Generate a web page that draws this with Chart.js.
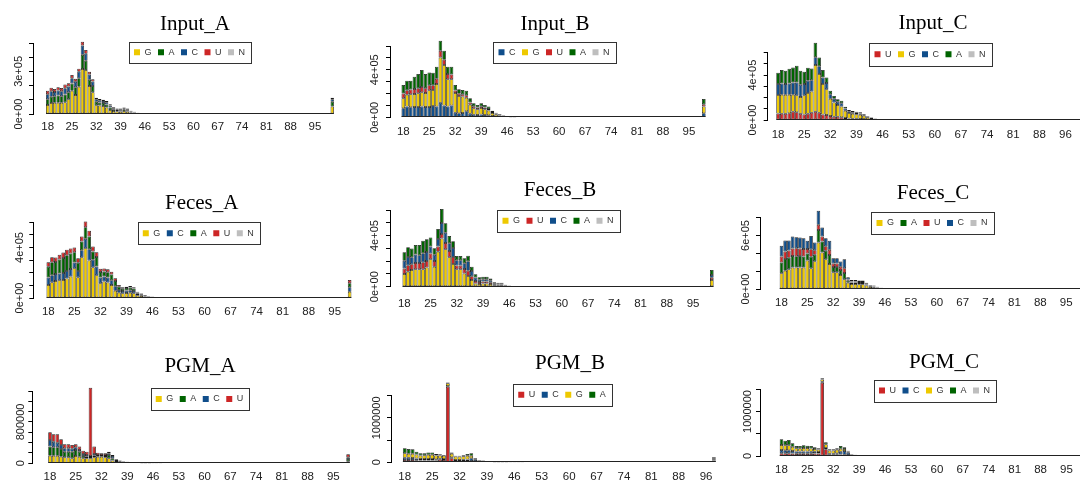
<!DOCTYPE html>
<html>
<head>
<meta charset="utf-8">
<script src="https://cdn.jsdelivr.net/npm/chart.js@4.4.1/dist/chart.umd.min.js"></script>
<style>
html,body{margin:0;padding:0;background:#fff;width:1080px;height:481px;overflow:hidden;position:relative}
canvas{position:absolute}
</style>
</head>
<body>
<script>
// ---------- categories (read length, nt) ----------
const cats18to100 = [18,19,20,21,22,23,24,25,26,27,28,29,30,31,32,33,34,35,36,37,38,39,40,41,42,43,44,45,46,47,48,49,50,51,52,53,54,55,56,57,58,59,60,61,62,63,64,65,66,67,68,69,70,71,72,73,74,75,76,77,78,79,80,81,82,83,84,85,86,87,88,89,90,91,92,93,94,95,96,97,98,99,100];
const cats18to99 = [18,19,20,21,22,23,24,25,26,27,28,29,30,31,32,33,34,35,36,37,38,39,40,41,42,43,44,45,46,47,48,49,50,51,52,53,54,55,56,57,58,59,60,61,62,63,64,65,66,67,68,69,70,71,72,73,74,75,76,77,78,79,80,81,82,83,84,85,86,87,88,89,90,91,92,93,94,95,96,97,98,99];
const cats18to101no95 = [18,19,20,21,22,23,24,25,26,27,28,29,30,31,32,33,34,35,36,37,38,39,40,41,42,43,44,45,46,47,48,49,50,51,52,53,54,55,56,57,58,59,60,61,62,63,64,65,66,67,68,69,70,71,72,73,74,75,76,77,78,79,80,81,82,83,84,85,86,87,88,89,90,91,92,93,94,96,97,98,99,100,101];
const cats18to98no95 = [18,19,20,21,22,23,24,25,26,27,28,29,30,31,32,33,34,35,36,37,38,39,40,41,42,43,44,45,46,47,48,49,50,51,52,53,54,55,56,57,58,59,60,61,62,63,64,65,66,67,68,69,70,71,72,73,74,75,76,77,78,79,80,81,82,83,84,85,86,87,88,89,90,91,92,93,94,96,97,98];
// x tick positions (category index of every 7th label)
const xTickIdx = [0,7,14,21,28,35,42,49,56,63,70,77];

// ---------- series values (thousands of reads) ----------
// Input_A  (stack order G, A, C, U, N) — 83 values
const inputA_G = [63,77,80,80,80,82,103,164,134,192, 317,310,197,153,61,59,56,45,28,21, 19,18,22,18,11,8,4,2,1,0.5, 0.2, 0,0,0,0,0, 0,0,0,0,0, 0,0,0,0,0, 0,0,0,0,0, 0,0,0,0,0, 0,0,0,0,0, 0,0,0,0,0, 0,0,0,0,0, 0,0,0,0,0, 0,0,0,0,0, 0, 52];
const inputA_A = [40,45,45,50,45,55,50,50,55,60, 100,65,45,45,25,22,22,22,18,12, 9,9,11,9,6,4,2,1,0.5,0.3, 0.1, 0,0,0,0,0, 0,0,0,0,0, 0,0,0,0,0, 0,0,0,0,0, 0,0,0,0,0, 0,0,0,0,0, 0,0,0,0,0, 0,0,0,0,0, 0,0,0,0,0, 0,0,0,0,0, 0, 35];
const inputA_C = [36,38,30,35,35,45,40,38,38,45, 65,50,36,30,18,15,14,15,13,8, 6,7,8,7,4,3,2,1,0.3,0.1, 0.1, 0,0,0,0,0, 0,0,0,0,0, 0,0,0,0,0, 0,0,0,0,0, 0,0,0,0,0, 0,0,0,0,0, 0,0,0,0,0, 0,0,0,0,0, 0,0,0,0,0, 0,0,0,0,0, 0, 16];
const inputA_U = [25,25,21,23,23,25,23,23,22,22, 27,26,20,16,11,10,9,10,9,6, 4,4,4,4,2,1,1,1,0.2,0.1, 0, 0,0,0,0,0, 0,0,0,0,0, 0,0,0,0,0, 0,0,0,0,0, 0,0,0,0,0, 0,0,0,0,0, 0,0,0,0,0, 0,0,0,0,0, 0,0,0,0,0, 0,0,0,0,0, 0, 12];
const inputA_N = [0,0,0,0,0, 0,0,0,0,0, 0,0,0,0,0, 0,0,0,0,0, 0,0,0,0,0, 0,0,0,0,0, 0,0,0,0,0, 0,0,0,0,0, 0,0,0,0,0, 0,0,0,0,0, 0,0,0,0,0, 0,0,0,0,0, 0,0,0,0,0, 0,0,0,0,0, 0,0,0,0,0, 0,0,0,0,0, 0,0,0];
// Input_B  (C, G, U, A, N) — 82 values
const inputB_C = [76,90,84,87,87,90,87,87,95,90, 123,100,90,100,39,34,36,50,30,22, 20,24,20,18,11,8,5,3,2,1, 0.5, 0,0,0,0,0, 0,0,0,0,0, 0,0,0,0,0, 0,0,0,0,0, 0,0,0,0,0, 0,0,0,0,0, 0,0,0,0,0, 0,0,0,0,0, 0,0,0,0,0, 0,0,0,0,0, 34];
const inputB_G = [84,100,110,110,115,120,118,140,135,190, 380,340,230,220,165,145,140,115,75,55, 48,55,48,40,25,17,11,8,5,3, 1.5, 0,0,0,0,0, 0,0,0,0,0, 0,0,0,0,0, 0,0,0,0,0, 0,0,0,0,0, 0,0,0,0,0, 0,0,0,0,0, 0,0,0,0,0, 0,0,0,0,0, 0,0,0,0,0, 56];
const inputB_U = [40,38,40,42,42,45,40,42,40,45, 56,45,45,40,22,20,18,20,20,15, 14,15,14,12,8,6,4,3,2,1, 0.5, 0,0,0,0,0, 0,0,0,0,0, 0,0,0,0,0, 0,0,0,0,0, 0,0,0,0,0, 0,0,0,0,0, 0,0,0,0,0, 0,0,0,0,0, 0,0,0,0,0, 0,0,0,0,0, 19];
const inputB_A = [72,80,74,103,120,143,119,109,105,101, 85,75,61,66,46,36,36,39,35,26, 22,24,22,20,12,8,5,3,2,1, 0.5, 0,0,0,0,0, 0,0,0,0,0, 0,0,0,0,0, 0,0,0,0,0, 0,0,0,0,0, 0,0,0,0,0, 0,0,0,0,0, 0,0,0,0,0, 0,0,0,0,0, 0,0,0,0,0, 45];
const inputB_N = [0,0,0,0,0, 0,0,0,0,0, 0,0,0,0,0, 0,0,0,0,0, 0,0,0,0,0, 0,0,0,0,0, 0,0,0,0,0, 0,0,0,0,0, 0,0,0,0,0, 0,0,0,0,0, 0,0,0,0,0, 0,0,0,0,0, 0,0,0,0,0, 0,0,0,0,0, 0,0,0,0,0, 0,0,0,0,0, 0,0];
// Input_C  (U, G, C, A, N) — 83 values
const inputC_U = [59,55,55,60,74,70,55,50,55,65, 74,65,50,45,35,30,28,25,18,14, 12,11,10,8,6,4,2.5,1.5,1,0.5, 0.2, 0,0,0,0,0, 0,0,0,0,0, 0,0,0,0,0, 0,0,0,0,0, 0,0,0,0,0, 0,0,0,0,0, 0,0,0,0,0, 0,0,0,0,0, 0,0,0,0,0, 0,0,0,0,0, 0, 30];
const inputC_G = [163,170,170,165,150,150,150,170,185,190, 416,345,270,230,155,125,105,95,65,48, 43,40,37,29,19,13,8,5,3,1.5, 0.5, 0,0,0,0,0, 0,0,0,0,0, 0,0,0,0,0, 0,0,0,0,0, 0,0,0,0,0, 0,0,0,0,0, 0,0,0,0,0, 0,0,0,0,0, 0,0,0,0,0, 0,0,0,0,0, 0, 60];
const inputC_C = [99,100,95,100,110,115,110,100,110,100, 70,70,60,55,40,35,30,30,20,15, 14,13,12,9,6,4,2.5,1.5,1,0.5, 0.2, 0,0,0,0,0, 0,0,0,0,0, 0,0,0,0,0, 0,0,0,0,0, 0,0,0,0,0, 0,0,0,0,0, 0,0,0,0,0, 0,0,0,0,0, 0,0,0,0,0, 0,0,0,0,0, 0, 30];
const inputC_A = [101,121,120,132,135,149,125,111,116,105, 129,78,66,50,31,24,21,22,16,12, 11,10,9,7,5,3,2,1,1,0.5, 0.1, 0,0,0,0,0, 0,0,0,0,0, 0,0,0,0,0, 0,0,0,0,0, 0,0,0,0,0, 0,0,0,0,0, 0,0,0,0,0, 0,0,0,0,0, 0,0,0,0,0, 0,0,0,0,0, 0, 40];
const inputC_N = [0,0,0,0,0, 0,0,0,0,0, 0,0,0,0,0, 0,0,0,0,0, 0,0,0,0,0, 0,0,0,0,0, 0,0,0,0,0, 0,0,0,0,0, 0,0,0,0,0, 0,0,0,0,0, 0,0,0,0,0, 0,0,0,0,0, 0,0,0,0,0, 0,0,0,0,0, 0,0,0,0,0, 0,0,0,0,0, 0,0,0];
// Feces_A  (G, C, A, U, N) — 82 values
const fecesA_G = [103,125,135,140,143,154,170,236,164,323, 395,297,244,180,117,130,122,103,58,42, 37,40,42,38,22,17,11,7,5,2, 1, 0,0,0,0,0, 0,0,0,0,0, 0,0,0,0,0, 0,0,0,0,0, 0,0,0,0,0, 0,0,0,0,0, 0,0,0,0,0, 0,0,0,0,0, 0,0,0,0,0, 0,0,0,0,0, 50];
const fecesA_C = [60,55,55,55,55,60,60,45,50,55, 75,90,60,70,45,40,40,38,35,22, 18,19,20,18,11,8,5,4,2.5,1, 0.4, 0,0,0,0,0, 0,0,0,0,0, 0,0,0,0,0, 0,0,0,0,0, 0,0,0,0,0, 0,0,0,0,0, 0,0,0,0,0, 0,0,0,0,0, 0,0,0,0,0, 0,0,0,0,0, 35];
const fecesA_A = [85,103,95,110,120,125,122,82,65,70, 90,100,65,75,45,40,43,45,42,25, 19,20,21,19,11,8,5,3,2.5,1.5, 0.4, 0,0,0,0,0, 0,0,0,0,0, 0,0,0,0,0, 0,0,0,0,0, 0,0,0,0,0, 0,0,0,0,0, 0,0,0,0,0, 0,0,0,0,0, 0,0,0,0,0, 0,0,0,0,0, 32];
const fecesA_U = [36,40,36,37,42,43,40,37,36,40, 47,46,39,38,24,23,23,23,21,14, 11,11,12,10,6,4,3,2,1,0.5, 0.2, 0,0,0,0,0, 0,0,0,0,0, 0,0,0,0,0, 0,0,0,0,0, 0,0,0,0,0, 0,0,0,0,0, 0,0,0,0,0, 0,0,0,0,0, 0,0,0,0,0, 0,0,0,0,0, 26];
const fecesA_N = [0,0,0,0,0, 0,0,0,0,0, 0,0,0,0,0, 0,0,0,0,0, 0,0,0,0,0, 0,0,0,0,0, 0,0,0,0,0, 0,0,0,0,0, 0,0,0,0,0, 0,0,0,0,0, 0,0,0,0,0, 0,0,0,0,0, 0,0,0,0,0, 0,0,0,0,0, 0,0,0,0,0, 0,0,0,0,0, 0,0];
// Feces_B  (G, U, C, A, N) — 83 values
const fecesB_G = [99,117,130,136,136,136,151,214,157,274, 378,292,230,177,136,136,104,84,52,25, 22,25,25,22,12,11,11,6,4,2, 1, 0,0,0,0,0, 0,0,0,0,0, 0,0,0,0,0, 0,0,0,0,0, 0,0,0,0,0, 0,0,0,0,0, 0,0,0,0,0, 0,0,0,0,0, 0,0,0,0,0, 0,0,0,0,0, 0, 52];
const fecesB_U = [44,50,45,50,50,55,50,45,45,40, 35,50,50,55,30,30,35,40,30,20, 15,15,15,13,7,6,6,3,2,1, 0.3, 0,0,0,0,0, 0,0,0,0,0, 0,0,0,0,0, 0,0,0,0,0, 0,0,0,0,0, 0,0,0,0,0, 0,0,0,0,0, 0,0,0,0,0, 0,0,0,0,0, 0,0,0,0,0, 0, 18];
const fecesB_C = [60,65,55,65,60,70,70,55,48,60, 85,80,60,70,40,40,45,75,40,27, 18,19,19,15,8,7,7,4,2,1, 0.4, 0,0,0,0,0, 0,0,0,0,0, 0,0,0,0,0, 0,0,0,0,0, 0,0,0,0,0, 0,0,0,0,0, 0,0,0,0,0, 0,0,0,0,0, 0,0,0,0,0, 0,0,0,0,0, 0, 21];
const fecesB_A = [66,76,68,75,80,99,100,70,50,78, 110,74,57,53,34,34,38,44,35,25, 18,19,19,15,7,7,7,3,2,1, 0.3, 0,0,0,0,0, 0,0,0,0,0, 0,0,0,0,0, 0,0,0,0,0, 0,0,0,0,0, 0,0,0,0,0, 0,0,0,0,0, 0,0,0,0,0, 0,0,0,0,0, 0,0,0,0,0, 0, 39];
const fecesB_N = [0,0,0,0,0, 0,0,0,0,0, 0,0,0,0,0, 0,0,0,0,0, 0,0,0,0,0, 0,0,0,0,0, 0,0,0,0,0, 0,0,0,0,0, 0,0,0,0,0, 0,0,0,0,0, 0,0,0,0,0, 0,0,0,0,0, 0,0,0,0,0, 0,0,0,0,0, 0,0,0,0,0, 0,0,0,0,0, 0,0,0];
// Feces_C  (G, A, U, C, N) — 83 values
const fecesC_G = [176,206,221,240,240,240,240,319,232,310, 521,409,334,281,187,187,157,109,71,55, 55,52,52,39,25,21,14,8,6,4, 2, 0,0,0,0,0, 0,0,0,0,0, 0,0,0,0,0, 0,0,0,0,0, 0,0,0,0,0, 0,0,0,0,0, 0,0,0,0,0, 0,0,0,0,0, 0,0,0,0,0, 0,0,0,0,0, 0, 60];
const fecesC_A = [120,130,130,130,128,130,125,80,130,75, 140,125,95,100,60,60,55,70,22,17, 17,16,16,12,8,7,5,3,2,1.3, 0.8, 0,0,0,0,0, 0,0,0,0,0, 0,0,0,0,0, 0,0,0,0,0, 0,0,0,0,0, 0,0,0,0,0, 0,0,0,0,0, 0,0,0,0,0, 0,0,0,0,0, 0,0,0,0,0, 0, 40];
const fecesC_U = [70,85,80,85,90,85,85,50,85,50, 60,55,50,60,40,40,38,55,14,11, 11,10,10,8,5,4,3,2,1.5,0.8, 0.5, 0,0,0,0,0, 0,0,0,0,0, 0,0,0,0,0, 0,0,0,0,0, 0,0,0,0,0, 0,0,0,0,0, 0,0,0,0,0, 0,0,0,0,0, 0,0,0,0,0, 0,0,0,0,0, 0, 25];
const fecesC_C = [118,123,113,134,123,123,120,91,149,86, 157,101,91,99,58,58,58,100,24,18, 18,16,16,12,7,6,4,2,1.5,0.9, 0.7, 0,0,0,0,0, 0,0,0,0,0, 0,0,0,0,0, 0,0,0,0,0, 0,0,0,0,0, 0,0,0,0,0, 0,0,0,0,0, 0,0,0,0,0, 0,0,0,0,0, 0,0,0,0,0, 0, 35];
const fecesC_N = [0,0,0,0,0, 0,0,0,0,0, 0,0,0,0,0, 0,0,0,0,0, 0,0,0,0,0, 0,0,0,0,0, 0,0,0,0,0, 0,0,0,0,0, 0,0,0,0,0, 0,0,0,0,0, 0,0,0,0,0, 0,0,0,0,0, 0,0,0,0,0, 0,0,0,0,0, 0,0,0,0,0, 0,0,0,0,0, 0,0,0];
// PGM_A  (G, A, C, U) — 82 values
const pgmA_G = [148,148,148,129,116,116,97,142,129,97, 97,97,116,129,129,116,97,52,26,17, 13,10,8,6,4,3,2,1.5,1,0.6, 0.3, 0,0,0,0,0, 0,0,0,0,0, 0,0,0,0,0, 0,0,0,0,0, 0,0,0,0,0, 0,0,0,0,0, 0,0,0,0,0, 0,0,0,0,0, 0,0,0,0,0, 0,0,0,0,0, 40];
const pgmA_A = [175,162,162,148,110,110,129,116,97,45, 32,26,32,13,13,26,64,45,19,13, 10,8,6,5,3,3,2,1.5,1,0.6, 0.3, 0,0,0,0,0, 0,0,0,0,0, 0,0,0,0,0, 0,0,0,0,0, 0,0,0,0,0, 0,0,0,0,0, 0,0,0,0,0, 0,0,0,0,0, 0,0,0,0,0, 0,0,0,0,0, 45];
const pgmA_C = [129,109,90,78,64,64,58,52,32,39, 32,19,33,19,19,19,32,45,19,13, 10,9,7,5,4,2,2,1.2,0.6,0.4, 0.2, 0,0,0,0,0, 0,0,0,0,0, 0,0,0,0,0, 0,0,0,0,0, 0,0,0,0,0, 0,0,0,0,0, 0,0,0,0,0, 0,0,0,0,0, 0,0,0,0,0, 0,0,0,0,0, 30];
const pgmA_U = [148,142,161,109,78,78,71,58,65,64, 65,1322,142,45,33,33,33,19,13,9, 6,5,5,3,2,2,1,0.8,0.4,0.4, 0.2, 0,0,0,0,0, 0,0,0,0,0, 0,0,0,0,0, 0,0,0,0,0, 0,0,0,0,0, 0,0,0,0,0, 0,0,0,0,0, 0,0,0,0,0, 0,0,0,0,0, 0,0,0,0,0, 59];
// PGM_B  (U, C, G, A) — 80 values
const pgmB_U = [53,50,50,45,40,40,40,40,40,55, 50,1700,90,30,30,30,30,30,15,10, 7,6,4,3,2,1.5,1,0.6,0.4,0.2, 0.1, 0,0,0,0,0, 0,0,0,0,0, 0,0,0,0,0, 0,0,0,0,0, 0,0,0,0,0, 0,0,0,0,0, 0,0,0,0,0, 0,0,0,0,0, 0,0,0,0,0, 0,0,0, 40];
const pgmB_C = [52,50,45,40,35,35,35,35,30,25, 25,20,25,20,20,25,35,60,35,20, 14,11,8,6,4,3,2,1.2,0.8,0.4, 0.2, 0,0,0,0,0, 0,0,0,0,0, 0,0,0,0,0, 0,0,0,0,0, 0,0,0,0,0, 0,0,0,0,0, 0,0,0,0,0, 0,0,0,0,0, 0,0,0,0,0, 0,0,0, 20];
const pgmB_G = [98,95,100,90,80,85,95,95,85,75, 70,60,80,80,80,80,85,60,20,13, 10,8,6,4,3,2,1.2,0.7,0.5,0.2, 0.1, 0,0,0,0,0, 0,0,0,0,0, 0,0,0,0,0, 0,0,0,0,0, 0,0,0,0,0, 0,0,0,0,0, 0,0,0,0,0, 0,0,0,0,0, 0,0,0,0,0, 0,0,0, 20];
const pgmB_A = [112,105,98,65,48,43,48,48,33,25, 20,20,23,20,20,23,38,53,20,10, 7,5,4,3,2,1.5,0.8,0.5,0.3,0.2, 0.1, 0,0,0,0,0, 0,0,0,0,0, 0,0,0,0,0, 0,0,0,0,0, 0,0,0,0,0, 0,0,0,0,0, 0,0,0,0,0, 0,0,0,0,0, 0,0,0,0,0, 0,0,0, 33];
// PGM_C  (U, C, G, A, N) — 83 values
const pgmC_U = [60,60,60,55,50,50,50,50,50,55, 55,1650,150,30,30,30,35,30,20,8, 5,4,3,2,1.5,1,0.7,0.5,0.3,0.2, 0.1, 0,0,0,0,0, 0,0,0,0,0, 0,0,0,0,0, 0,0,0,0,0, 0,0,0,0,0, 0,0,0,0,0, 0,0,0,0,0, 0,0,0,0,0, 0,0,0,0,0, 0,0,0,0,0, 0, 40];
const pgmC_C = [75,70,70,60,50,50,50,50,45,40, 35,20,30,20,20,30,60,80,55,20, 13,10,7,5,3,2.5,1.6,1.2,0.8,0.4, 0.2, 0,0,0,0,0, 0,0,0,0,0, 0,0,0,0,0, 0,0,0,0,0, 0,0,0,0,0, 0,0,0,0,0, 0,0,0,0,0, 0,0,0,0,0, 0,0,0,0,0, 0,0,0,0,0, 0, 20];
const pgmC_G = [113,110,110,95,75,75,80,78,75,60, 55,50,85,75,75,80,70,45,25,10, 7,5,4,3,2,1.5,1,0.8,0.5,0.2, 0.1, 0,0,0,0,0, 0,0,0,0,0, 0,0,0,0,0, 0,0,0,0,0, 0,0,0,0,0, 0,0,0,0,0, 0,0,0,0,0, 0,0,0,0,0, 0,0,0,0,0, 0,0,0,0,0, 0, 20];
const pgmC_A = [127,105,120,75,50,50,60,55,55,40, 28,28,43,25,25,33,60,40,20,7, 5,4,3,2,1.5,1,0.7,0.5,0.4,0.2, 0.1, 0,0,0,0,0, 0,0,0,0,0, 0,0,0,0,0, 0,0,0,0,0, 0,0,0,0,0, 0,0,0,0,0, 0,0,0,0,0, 0,0,0,0,0, 0,0,0,0,0, 0,0,0,0,0, 0, 30];
const pgmC_N = [0,0,0,0,0, 0,0,0,0,0, 0,0,0,0,0, 0,0,0,0,0, 0,0,0,0,0, 0,0,0,0,0, 0,0,0,0,0, 0,0,0,0,0, 0,0,0,0,0, 0,0,0,0,0, 0,0,0,0,0, 0,0,0,0,0, 0,0,0,0,0, 0,0,0,0,0, 0,0,0,0,0, 0,0,0,0,0, 0,0,0];

// ---------- y tick labels ----------
const yTicksInputA = [0, 300], yTextInputA = ['0e+00', '3e+05'];
const yTicks4e5 = [0, 400], yText4e5 = ['0e+00', '4e+05'];
const yTicks6e5 = [0, 600], yText6e5 = ['0e+00', '6e+05'];
const yTicks8e5 = [0, 800], yText8e5 = ['0', '800000'];
const yTicks1e6 = [0, 1000], yText1e6 = ['0', '1000000'];

// ---------- styles ----------
const COLORS = {G:'#EEC900', A:'#006400', C:'#104E8B', U:'#CD2626', N:'#BEBEBE'};
const SANS = '"Liberation Sans", Arial, Helvetica, sans-serif';
const SERIF = '"Liberation Serif", "Times New Roman", serif';
const TITLE_SIZE = 21, X_FONT = 11.5, Y_FONT = 11, LEG_FONT = 9, LEG_BOX = 6, LEG_PAD = 6.5, TICK_LEN = 4;

const panels = [
  {title:'Input_A', cats:cats18to100, order:['G','A','C','U','N'], series:{G:inputA_G,A:inputA_A,C:inputA_C,U:inputA_U,N:inputA_N}, yMax:500, yStep:100, yVals:yTicksInputA, yText:yTextInputA,
   lay:{px:0,py:0,pw:360,ph:160, axisX:33, topY:43, zeroY:114, x0:47.7, s:3.47, tx:195, ty:24, lx:189.5, ly:52.3, lh:21, yd:14.3, xd:12.7}},
  {title:'Input_B', cats:cats18to99, order:['C','G','U','A','N'], series:{C:inputB_C,G:inputB_G,U:inputB_U,A:inputB_A,N:inputB_N}, yMax:600, yStep:100, yVals:yTicks4e5, yText:yText4e5,
   lay:{px:360,py:0,pw:360,ph:160, axisX:390, topY:46, zeroY:117.3, x0:403.3, s:3.71, tx:555, ty:24, lx:554, ly:52.2, lh:21, yd:15, xd:14.4}},
  {title:'Input_C', cats:cats18to101no95, order:['U','G','C','A','N'], series:{U:inputC_U,G:inputC_G,C:inputC_C,A:inputC_A,N:inputC_N}, yMax:600, yStep:100, yVals:yTicks4e5, yText:yText4e5,
   lay:{px:720,py:0,pw:360,ph:160, axisX:767.7, topY:52.7, zeroY:120, x0:778.3, s:3.81, tx:933, ty:23.3, lx:930, ly:54.3, lh:23, yd:15.2, xd:15}},
  {title:'Feces_A', cats:cats18to99, order:['G','C','A','U','N'], series:{G:fecesA_G,C:fecesA_C,A:fecesA_A,U:fecesA_U,N:fecesA_N}, yMax:600, yStep:100, yVals:yTicks4e5, yText:yText4e5,
   lay:{px:0,py:160,pw:360,ph:170, axisX:33.3, topY:222.3, zeroY:298, x0:48.3, s:3.72, tx:201.7, ty:203.3, lx:198.3, ly:233.2, lh:22, yd:13.3, xd:13.7}},
  {title:'Feces_B', cats:cats18to100, order:['G','U','C','A','N'], series:{G:fecesB_G,U:fecesB_U,C:fecesB_C,A:fecesB_A,N:fecesB_N}, yMax:600, yStep:100, yVals:yTicks4e5, yText:yText4e5,
   lay:{px:360,py:160,pw:360,ph:170, axisX:390, topY:210, zeroY:286.7, x0:404.3, s:3.75, tx:560, ty:190.7, lx:558, ly:220.8, lh:22, yd:15.3, xd:16.7}},
  {title:'Feces_C', cats:cats18to100, order:['G','A','U','C','N'], series:{G:fecesC_G,A:fecesC_A,U:fecesC_U,C:fecesC_C,N:fecesC_N}, yMax:800, yStep:200, yVals:yTicks6e5, yText:yText6e5,
   lay:{px:720,py:160,pw:360,ph:170, axisX:760, topY:217.7, zeroY:289, x0:781.7, s:3.74, tx:933, ty:193.3, lx:932, ly:223, lh:22, yd:14, xd:14.3}},
  {title:'PGM_A', cats:cats18to99, order:['G','A','C','U'], series:{G:pgmA_G,A:pgmA_A,C:pgmA_C,U:pgmA_U}, yMax:1400, yStep:200, yVals:yTicks8e5, yText:yText8e5,
   lay:{px:0,py:330,pw:360,ph:151, axisX:32.3, topY:391, zeroY:463.3, x0:50, s:3.68, tx:200, ty:366, lx:199.5, ly:399, lh:22, yd:11, xd:13.4}},
  {title:'PGM_B', cats:cats18to98no95, order:['U','C','G','A'], series:{U:pgmB_U,C:pgmB_C,G:pgmB_G,A:pgmB_A}, yMax:1500, yStep:500, yVals:yTicks1e6, yText:yText1e6,
   lay:{px:360,py:330,pw:360,ph:151, axisX:391, topY:395.7, zeroY:462.3, x0:405, s:3.98, tx:570, ty:363.3, lx:562, ly:394.7, lh:22, yd:14, xd:14.4}},
  {title:'PGM_C', cats:cats18to100, order:['U','C','G','A','N'], series:{U:pgmC_U,C:pgmC_C,G:pgmC_G,A:pgmC_A,N:pgmC_N}, yMax:1500, yStep:500, yVals:yTicks1e6, yText:yText1e6,
   lay:{px:720,py:330,pw:360,ph:151, axisX:760, topY:389.3, zeroY:456, x0:781.7, s:3.74, tx:944, ty:362.3, lx:934.5, ly:390.5, lh:22, yd:12, xd:14}}
];

const mctx = document.createElement('canvas').getContext('2d');
const lengthProblems = [];

function build(p) {
  const L = p.lay;
  const cv = document.createElement('canvas');
  cv.width = L.pw; cv.height = L.ph;
  cv.style.left = L.px + 'px'; cv.style.top = L.py + 'px';
  cv.style.width = L.pw + 'px'; cv.style.height = L.ph + 'px';
  document.body.appendChild(cv);
  const n = p.cats.length;
  p.order.forEach(k => { if (p.series[k].length !== n) lengthProblems.push(p.title + ' ' + k + ': ' + p.series[k].length + ' vs ' + n); });
  const xmin = -(L.x0 - L.axisX) / L.s;
  const xmax = xmin + (L.px + L.pw - L.axisX) / L.s;
  mctx.font = Y_FONT + 'px ' + SANS;
  const widest = Math.max(...p.yText.map(t => mctx.measureText(t).width));
  const yPad = L.yd - TICK_LEN - widest / 2;
  const xPad = L.xd - X_FONT * 1.2 / 2;
  const titleH = TITLE_SIZE * 1.2;

  const datasets = p.order.map(k => ({
    label: k,
    data: p.series[k].map((v, i) => ({x: i, y: v})),
    backgroundColor: COLORS[k],
    borderColor: '#1a1a1a',
    borderWidth: 0.75,
    borderSkipped: false,
    barPercentage: 0.97,
    categoryPercentage: 1,
    clip: false
  }));

  const placer = {
    id: 'placer',
    afterLayout(chart) {
      const t = chart.titleBlock;
      if (t) {
        t.left = L.tx - L.px - 150; t.right = L.tx - L.px + 150;
        t.top = L.ty - L.py - titleH / 2; t.bottom = t.top + titleH;
      }
      const lg = chart.legend;
      if (lg) {
        const w = lg.width, cx = L.lx - L.px;
        lg.left = cx - w / 2; lg.right = cx + w / 2;
        const ih = Math.max(LEG_FONT, LEG_BOX);
        lg.top = L.ly - L.py - LEG_PAD - ih / 2;
        lg.bottom = lg.top + 2 * LEG_PAD + ih + 10;
      }
    },
    afterDatasetsDraw(chart) {
      const xs = chart.scales.x, ys = chart.scales.y, ctx = chart.ctx;
      const y0 = Math.round(ys.getPixelForValue(0)) - 0.5;
      ctx.save();
      ctx.strokeStyle = '#222'; ctx.lineWidth = 1;
      ctx.beginPath();
      ctx.moveTo(xs.getPixelForValue(-0.48), y0);
      ctx.lineTo(xs.getPixelForValue(n - 1 + 0.48), y0);
      ctx.stroke();
      ctx.restore();
    },
    afterDraw(chart) {
      const hb = chart.legend && chart.legend.legendHitBoxes;
      if (!hb || !hb.length) return;
      const a = hb[0], b = hb[hb.length - 1], ctx = chart.ctx;
      const l = Math.round(a.left - 5) + 0.5, r = Math.round(b.left + b.width + 6) + 0.5;
      const cy = a.top + a.height / 2;
      const t = Math.round(cy - L.lh / 2) + 0.5;
      ctx.save();
      ctx.strokeStyle = '#333'; ctx.lineWidth = 1;
      ctx.strokeRect(l, t, r - l, L.lh);
      ctx.restore();
    }
  };

  new Chart(cv, {
    type: 'bar',
    data: { datasets },
    options: {
      responsive: false, animation: false, devicePixelRatio: 1, events: [],
      layout: { padding: { top: (L.topY - L.py) - titleH - 1, left: 0, right: 0, bottom: 0 } },
      plugins: {
        title: { display: true, text: p.title, color: '#000', padding: 0,
                 font: { family: SERIF, size: TITLE_SIZE, weight: 'normal' } },
        legend: { display: true, position: 'top', maxHeight: 1,
          labels: { boxWidth: LEG_BOX, boxHeight: LEG_BOX, padding: LEG_PAD, color: '#333',
                    font: { family: SANS, size: LEG_FONT },
                    generateLabels: (chart) => Chart.defaults.plugins.legend.labels.generateLabels(chart)
                      .map(it => Object.assign(it, { lineWidth: 0, strokeStyle: it.fillStyle })) } },
        tooltip: { enabled: false }
      },
      scales: {
        x: {
          type: 'linear', stacked: true, min: xmin, max: xmax, offset: false,
          grid: { display: false, drawTicks: false, offset: false },
          border: { display: false },
          afterBuildTicks: (s) => { s.ticks = xTickIdx.map(v => ({ value: v })); },
          afterFit: (s) => { s.height = L.py + L.ph - L.zeroY; },
          ticks: { autoSkip: false, maxRotation: 0, minRotation: 0, padding: xPad, color: '#222',
                   font: { family: SANS, size: X_FONT },
                   callback: (v) => (p.cats[v] !== undefined ? String(p.cats[v]) : '') }
        },
        y: {
          type: 'linear', stacked: true, min: 0, max: p.yMax,
          grid: { display: true, drawOnChartArea: false, drawTicks: true, tickLength: TICK_LEN, color: '#000', lineWidth: 1 },
          border: { display: true, color: '#000', width: 1 },
          afterFit: (s) => { s.width = L.axisX - L.px; },
          ticks: { stepSize: p.yStep, autoSkip: false, minRotation: 90, maxRotation: 90, crossAlign: 'center',
                   padding: yPad, color: '#222', font: { family: SANS, size: Y_FONT },
                   callback: (v) => { const i = p.yVals.indexOf(v); return i >= 0 ? p.yText[i] : ''; } }
        }
      }
    },
    plugins: [placer]
  });
}

panels.forEach(build);
if (lengthProblems.length) setTimeout(() => { throw new Error('Length mismatch: ' + lengthProblems.join('; ')); }, 0);
</script>
</body>
</html>
